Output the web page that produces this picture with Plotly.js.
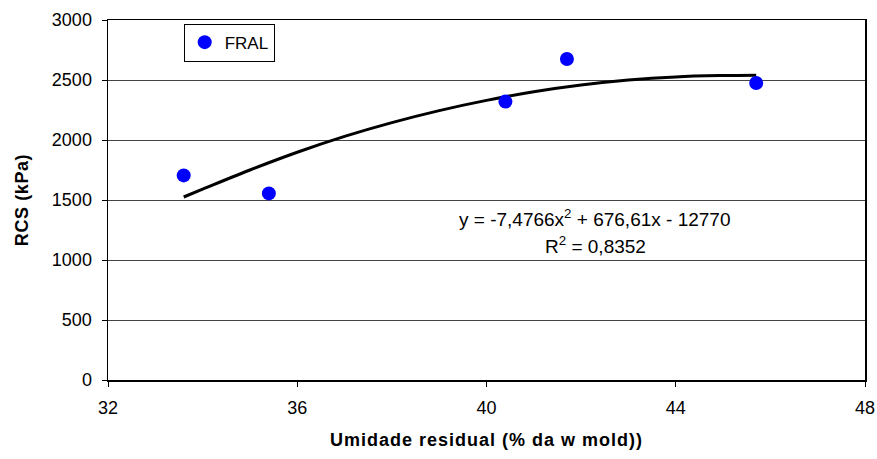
<!DOCTYPE html>
<html>
<head>
<meta charset="utf-8">
<script src="https://cdn.plot.ly/plotly-3.0.1.min.js"></script>
<style>
html,body{margin:0;padding:0;background:#fff;}
#chart{width:877px;height:459px;}
.xtitle{letter-spacing:1px;}
.ytitle{letter-spacing:0.6px;}
</style>
</head>
<body>
<div id="chart"></div>
<script>
// Measured points (FRAL)
var umidade = [33.6, 35.4, 40.4, 41.7, 45.7];
var rcs = [1705, 1555, 2320, 2675, 2475];
// Trend line
var trendX = [33.6, 34, 35, 36, 37, 38, 39, 40, 41, 42, 43, 44, 45, 45.7];
var trendY = [1525, 1590, 1750, 1898, 2030, 2145, 2245, 2330, 2402, 2458, 2500, 2526, 2537, 2540];
var xTicks = [32, 36, 40, 44, 48];
var yTicks = [0, 500, 1000, 1500, 2000, 2500, 3000];

var fontFam = 'Liberation Sans, Arial, sans-serif';
var traces = [
  {x: trendX, y: trendY, mode: 'lines', line: {color: '#000', width: 3, shape: 'spline'}, showlegend: false, hoverinfo: 'skip'},
  {x: umidade, y: rcs, mode: 'markers', name: 'FRAL', marker: {color: '#0000ff', size: 14}}
];
var layout = {
  width: 877, height: 459,
  margin: {l: 108, r: 12, t: 20, b: 79},
  paper_bgcolor: '#fff', plot_bgcolor: '#fff',
  font: {family: fontFam, size: 18, color: '#000'},
  showlegend: true,
  legend: {x: 0.1, y: 0.99, xanchor: 'left', yanchor: 'top', bgcolor: '#fff', bordercolor: '#000', borderwidth: 1, font: {size: 17}, itemwidth: 30, tracegroupgap: 0},
  xaxis: {
    range: [32, 48], tickvals: xTicks, ticktext: xTicks.map(String),
    showgrid: false, zeroline: false, showline: true, linecolor: '#000', linewidth: 1.5, mirror: true,
    ticks: 'outside', ticklen: 5, tickcolor: '#000', ticklabelstandoff: 6,
    title: {text: 'Umidade residual (% da w mold))', font: {size: 18, family: fontFam, weight: 'bold'}, standoff: 16}
  },
  yaxis: {
    range: [0, 3000], tickvals: yTicks, ticktext: yTicks.map(String),
    showgrid: true, gridcolor: '#444', gridwidth: 1, zeroline: false,
    showline: true, linecolor: '#000', linewidth: 1.5, mirror: true,
    ticks: 'outside', ticklen: 5, tickcolor: '#000', ticklabelstandoff: 6,
    title: {text: 'RCS (kPa)', font: {size: 18, family: fontFam, weight: 'bold'}, standoff: 18}
  },
  annotations: [
    {x: 42.3, y: 1350, xref: 'x', yref: 'y', text: 'y = -7,4766x<sup>2</sup> + 676,61x - 12770', showarrow: false, font: {size: 19}, xanchor: 'center', yanchor: 'middle'},
    {x: 42.3, y: 1125, xref: 'x', yref: 'y', text: 'R<sup>2</sup> = 0,8352', showarrow: false, font: {size: 19}, xanchor: 'center', yanchor: 'middle'}
  ]
};
Plotly.newPlot('chart', traces, layout, {displayModeBar: false, staticPlot: true});
</script>
</body>
</html>
